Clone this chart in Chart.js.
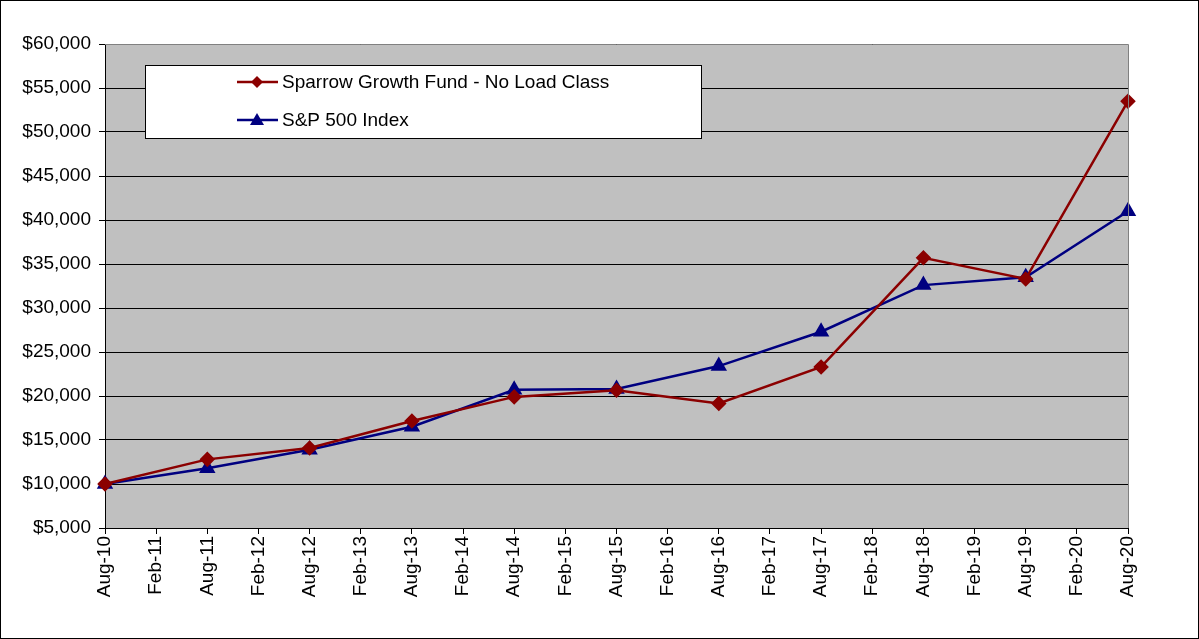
<!DOCTYPE html>
<html><head><meta charset="utf-8">
<script src="https://cdn.jsdelivr.net/npm/chart.js@4.4.1/dist/chart.umd.min.js"></script>
<style>html,body{margin:0;padding:0;background:#fff;}#wrap{width:1199px;height:639px;position:relative;}</style>
</head><body><div id="wrap"><canvas id="c" width="1199" height="639"></canvas></div>
<script>
const categories = ['Aug-10','Feb-11','Aug-11','Feb-12','Aug-12','Feb-13','Aug-13','Feb-14','Aug-14','Feb-15','Aug-15','Feb-16','Aug-16','Feb-17','Aug-17','Feb-18','Aug-18','Feb-19','Aug-19','Feb-20','Aug-20'];
const fundLabel = 'Sparrow Growth Fund - No Load Class';
const indexLabel = 'S&P 500 Index';
const fundValues = [10000,null,12800,null,14100,null,17150,null,19900,null,20650,null,19150,null,23300,null,35700,null,33300,null,53500];
const indexValues = [10000,null,11800,null,13900,null,16500,null,20700,null,20800,null,23400,null,27300,null,32600,null,33500,null,41000];
const yTicks = {min:5000, max:60000, step:5000};

const FONT = '"Liberation Sans", Arial, sans-serif';
const RED = '#8B0000', BLUE = '#000080';

const framePlugin = {
  id:'frame',
  beforeDraw(chart){
    const {ctx, chartArea:a} = chart;
    ctx.save();
    ctx.fillStyle='#fff'; ctx.fillRect(0,0,chart.width,chart.height);
    ctx.fillStyle='#C0C0C0'; ctx.fillRect(a.left,a.top,a.right-a.left,a.bottom-a.top);
    ctx.restore();
  },
  afterDraw(chart){
    const {ctx, chartArea:a} = chart;
    ctx.save();
    ctx.strokeStyle='#808080'; ctx.lineWidth=1;
    ctx.beginPath(); ctx.moveTo(a.left,a.top+0.5); ctx.lineTo(a.right+0.5,a.top+0.5); ctx.lineTo(a.right+0.5,a.bottom); ctx.stroke();
    ctx.strokeStyle='#000';
    ctx.strokeRect(0.5,0.5,chart.width-1,chart.height-1);
    // legend box
    const lx=145, ly=65, lw=556, lh=73;
    ctx.fillStyle='#fff'; ctx.fillRect(lx,ly,lw,lh);
    ctx.strokeStyle='#000'; ctx.lineWidth=1; ctx.strokeRect(lx+0.5,ly+0.5,lw,lh);
    const rows=[{label:fundLabel,color:RED,m:'d',y:82},{label:indexLabel,color:BLUE,m:'t',y:120}];
    ctx.font='19px '+FONT; ctx.textBaseline='middle'; ctx.textAlign='left';
    rows.forEach(r=>{
      ctx.strokeStyle=r.color; ctx.lineWidth=2.5;
      ctx.beginPath(); ctx.moveTo(237,r.y); ctx.lineTo(278,r.y); ctx.stroke();
      ctx.fillStyle=r.color;
      ctx.beginPath();
      if(r.m==='d'){ctx.moveTo(257,r.y-6);ctx.lineTo(263,r.y);ctx.lineTo(257,r.y+6);ctx.lineTo(251,r.y);}
      else {ctx.moveTo(257,r.y-7);ctx.lineTo(264,r.y+5);ctx.lineTo(250,r.y+5);}
      ctx.closePath(); ctx.fill();
      ctx.fillStyle='#000'; ctx.fillText(r.label,282,r.y+1);
    });
    ctx.restore();
  }
};

new Chart(document.getElementById('c'),{
  type:'line',
  data:{labels:categories,datasets:[
    {label:fundLabel,data:fundValues,borderColor:RED,backgroundColor:RED,borderWidth:2.5,pointStyle:'rectRot',pointRadius:6,pointHoverRadius:6,spanGaps:true,tension:0},
    {label:indexLabel,data:indexValues,borderColor:BLUE,backgroundColor:BLUE,borderWidth:2.5,pointStyle:'triangle',pointRadius:7,pointHoverRadius:7,spanGaps:true,tension:0}
  ]},
  options:{
    responsive:false,animation:false,
    layout:{padding:{top:44,right:71,left:0,bottom:0}},
    plugins:{legend:{display:false},tooltip:{enabled:false}},
    scales:{
      x:{
        offset:false,
        afterFit(s){s.height=111;},
        grid:{display:true,drawOnChartArea:false,drawTicks:true,tickLength:6,color:'#000'},
        border:{display:true,color:'#000',width:1},
        ticks:{color:'#000',font:{family:FONT,size:19},maxRotation:90,minRotation:90,autoSkip:false,padding:2}
      },
      y:{
        min:yTicks.min,max:yTicks.max,
        afterFit(s){s.width=105;},
        grid:{color:'#000',lineWidth:1,drawTicks:true,tickLength:6},
        border:{display:true,color:'#000',width:1},
        ticks:{stepSize:yTicks.step,color:'#000',font:{family:FONT,size:19},padding:8,
          callback:v=>'$'+v.toLocaleString('en-US')}
      }
    }
  },
  plugins:[framePlugin]
});
</script></body></html>
